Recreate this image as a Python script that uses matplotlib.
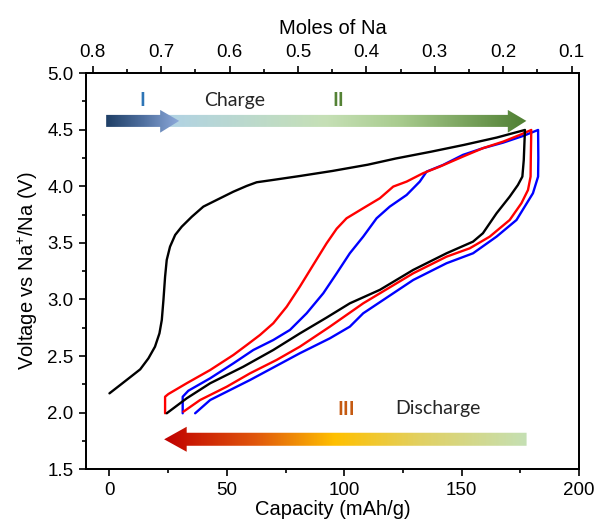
import numpy as np
import matplotlib
matplotlib.use("Agg")
import matplotlib.pyplot as plt
from matplotlib.patches import Polygon
from matplotlib.colors import LinearSegmentedColormap
from matplotlib.ticker import MultipleLocator

plt.rcParams['font.family'] = ['Liberation Sans', 'DejaVu Sans']
plt.rcParams['mathtext.default'] = 'regular'

# ---------------- data ----------------
# cycle 1 (black): first charge
c1_charge_cap = [0.0, 4.6, 8.8, 13.1, 16.6, 19.4, 21.3, 22.3, 23.0, 23.7, 24.4, 25.8,
                 28.0, 30.8, 35.1, 40.0, 45.7, 52.8, 58.5, 62.7, 69.8, 81.0, 95.0,
                 110.0, 122.0, 137.0, 151.0, 165.0, 177.0]
c1_charge_v = [2.171, 2.245, 2.313, 2.383, 2.48, 2.583, 2.701, 2.819, 2.996, 3.201,
               3.349, 3.466, 3.57, 3.643, 3.731, 3.82, 3.879, 3.952, 4.003, 4.035,
               4.056, 4.09, 4.135, 4.19, 4.245, 4.305, 4.365, 4.43, 4.497]
# cycle 1 (black): discharge
c1_dis_cap = [177.0, 176.5, 175.9, 174.0, 170.5, 164.9, 159.1, 154.9, 143.6, 129.4,
              115.2, 102.4, 92.5, 81.1, 69.8, 57.0, 42.9, 32.9, 24.4]
c1_dis_v = [4.497, 4.232, 4.085, 4.011, 3.908, 3.761, 3.585, 3.511, 3.408, 3.261,
            3.085, 2.966, 2.84, 2.70, 2.554, 2.406, 2.26, 2.127, 1.995]

# cycle 2 (red)
c2_charge_cap = [23.7, 23.7, 25.1, 32.9, 42.9, 52.8, 58.5, 64.1, 69.8, 75.5, 81.1,
                 86.8, 92.5, 96.8, 101.0, 108.1, 115.2, 120.9, 126.6, 133.6, 140.7,
                 150.6, 159.1, 167.7, 174.8, 179.7]
c2_charge_v = [1.995, 2.141, 2.165, 2.26, 2.377, 2.51, 2.598, 2.686, 2.79, 2.936, 3.113,
               3.305, 3.496, 3.625, 3.717, 3.806, 3.894, 3.997, 4.041, 4.115, 4.173,
               4.262, 4.336, 4.394, 4.453, 4.497]
c2_dis_cap = [179.7, 179.5, 179.4, 178.3, 175.5, 170.5, 162.0, 153.5, 143.6, 129.4,
              108.1, 93.9, 81.1, 71.2, 59.9, 50.0, 38.6, 31.5]
c2_dis_v = [4.497, 4.25, 4.085, 3.967, 3.85, 3.702, 3.555, 3.452, 3.378, 3.231,
            2.966, 2.76, 2.583, 2.466, 2.348, 2.23, 2.112, 2.009]

# cycle 3 (blue)
c3_charge_cap = [31.2, 31.2, 33.6, 42.9, 52.8, 61.3, 69.8, 76.9, 84.0, 91.1, 96.8,
                 102.4, 108.1, 113.8, 119.4, 126.6, 132.2, 135.1, 142.1, 150.6,
                 159.1, 167.7, 176.2, 182.6]
c3_charge_v = [1.995, 2.141, 2.194, 2.304, 2.436, 2.554, 2.642, 2.731, 2.878, 3.055,
               3.231, 3.408, 3.555, 3.717, 3.82, 3.923, 4.041, 4.129, 4.188, 4.277,
               4.336, 4.385, 4.444, 4.497]
c3_dis_cap = [182.6, 182.7, 182.6, 180.4, 173.4, 164.9, 154.9, 143.6, 129.4, 108.1,
              102.4, 93.9, 81.1, 59.9, 42.9, 36.5]
c3_dis_v = [4.497, 4.25, 4.085, 3.938, 3.702, 3.555, 3.408, 3.32, 3.172, 2.878,
            2.76, 2.657, 2.525, 2.289, 2.112, 1.995]

x_ticks = [0, 50, 100, 150, 200]
y_ticks = [1.5, 2.0, 2.5, 3.0, 3.5, 4.0, 4.5, 5.0]
mole_ticks = [0.8, 0.7, 0.6, 0.5, 0.4, 0.3, 0.2, 0.1]

# ---------------- figure ----------------
fig = plt.figure(figsize=(5.95, 5.29), dpi=100)
ax = fig.add_axes([0.1445, 0.1128, 0.8285, 0.7492])

lw = 1.7
kw = dict(lw=lw, solid_joinstyle='round', solid_capstyle='round')
ax.plot(c1_charge_cap + c1_dis_cap, c1_charge_v + c1_dis_v, color='black', zorder=5, **kw)
ax.plot(c2_charge_cap + c2_dis_cap, c2_charge_v + c2_dis_v, color='#ff0000', zorder=4, **kw)
ax.plot(c3_charge_cap + c3_dis_cap, c3_charge_v + c3_dis_v, color='#0000ff', zorder=3, **kw)

ax.set_xlim(-10, 200)
ax.set_ylim(1.5, 5.0)
ax.set_xticks(x_ticks)
ax.set_yticks(y_ticks)
ax.set_yticklabels([f"{v:.1f}" for v in y_ticks])
ax.xaxis.set_minor_locator(MultipleLocator(25))
ax.yaxis.set_minor_locator(MultipleLocator(0.25))
ax.tick_params(which='major', direction='out', length=5, width=1.2, labelsize=13.5, pad=4)
ax.tick_params(which='minor', direction='out', length=3, width=1.2)
ax.tick_params(top=False, right=False)
for s in ax.spines.values():
    s.set_linewidth(1.3)
ax.set_xlabel('Capacity (mAh/g)', fontsize=14.5, labelpad=1)
ax.set_ylabel('Voltage vs Na$^{+}$/Na (V)', fontsize=14.5, labelpad=5)

ax2 = ax.twiny()
ax2.set_xlim(0.8098, 0.0893)
ax2.set_xticks(mole_ticks)
ax2.set_xticklabels([f"{m:.1f}" for m in mole_ticks])
ax2.xaxis.set_minor_locator(MultipleLocator(0.05))
ax2.tick_params(which='major', direction='out', length=5, width=1.2, labelsize=13.5, pad=4)
ax2.tick_params(which='minor', direction='out', length=3, width=1.2)
ax2.set_xlabel('Moles of Na', fontsize=14.5, labelpad=7)
for s in ax2.spines.values():
    s.set_linewidth(1.3)


def grad_arrow(verts, colors, positions, x0, x1, y0, y1, z):
    cmap = LinearSegmentedColormap.from_list('g', list(zip(positions, colors)))
    patch = Polygon(verts, closed=True, transform=ax.transData,
                    facecolor='none', edgecolor='none')
    ax.add_patch(patch)
    grad = np.linspace(0, 1, 512).reshape(1, -1)
    im = ax.imshow(grad, extent=[x0, x1, y0, y1], cmap=cmap, aspect='auto',
                   interpolation='bilinear', zorder=z, origin='lower')
    im.set_clip_path(patch)


# charge arrow (main, light blue -> green)
sy0, sy1 = 4.524, 4.63
hy0, hy1 = 4.473, 4.674
grad_arrow([(22, sy0), (169.7, sy0), (169.7, hy0), (177.6, 4.577),
            (169.7, hy1), (169.7, sy1), (22, sy1)],
           ['#b0d2e6', '#c6e0b6', '#a9cc8f', '#4f7f32'], [0, 0.45, 0.65, 1],
           22, 177.6, hy0, hy1, 2)
# arrow I (dark blue -> light blue)
grad_arrow([(-1.4, sy0), (21.6, sy0), (21.6, hy0), (29.7, 4.577),
            (21.6, hy1), (21.6, sy1), (-1.4, sy1)],
           ['#1f3f66', '#4f6f9f', '#8eaadb'], [0, 0.5, 1],
           -1.4, 29.7, hy0, hy1, 3)
# discharge arrow (red -> yellow -> light green)
dy0, dy1 = 1.708, 1.823
dh0, dh1 = 1.655, 1.876
grad_arrow([(177.7, dy0), (32.9, dy0), (32.9, dh0), (23.3, 1.765),
            (32.9, dh1), (32.9, dy1), (177.7, dy1)],
           ['#c00000', '#e0560c', '#ffc000', '#e2d060', '#c5e0b4'],
           [0, 0.25, 0.47, 0.7, 1],
           23.3, 177.7, dh0, dh1, 2)

tfont = ['Lato', 'DejaVu Sans']
ax.text(13.8, 4.76, 'I', color='#2e75b6', fontsize=14, fontweight='bold',
        ha='center', va='center', family=tfont)
ax.text(53.5, 4.76, 'Charge', color='#262626', fontsize=14,
        ha='center', va='center', family=tfont)
ax.text(97.3, 4.76, 'II', color='#548235', fontsize=14, fontweight='bold',
        ha='center', va='center', family=tfont)
ax.text(100.7, 2.03, 'III', color='#c55a11', fontsize=14, fontweight='bold',
        ha='center', va='center', family=tfont)
ax.text(139.9, 2.04, 'Discharge', color='#262626', fontsize=14,
        ha='center', va='center', family=tfont)

fig.savefig('out.png', dpi=100)
